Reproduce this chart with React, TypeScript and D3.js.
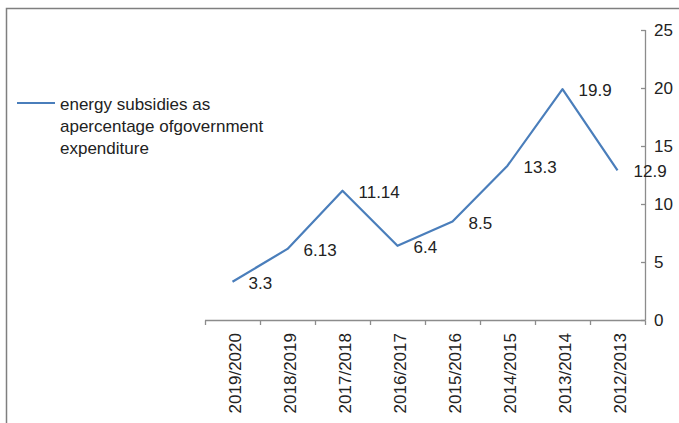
import React, { useEffect, useRef } from 'react';
import * as d3 from 'd3';

const categories = ['2019/2020', '2018/2019', '2017/2018', '2016/2017', '2015/2016', '2014/2015', '2013/2014', '2012/2013'];
const values = [3.3, 6.13, 11.14, 6.4, 8.5, 13.3, 19.9, 12.9];
const valueLabels = ['3.3', '6.13', '11.14', '6.4', '8.5', '13.3', '19.9', '12.9'];
const yTicks = [0, 5, 10, 15, 20, 25];
const legendLines = ['energy subsidies as', 'apercentage ofgovernment', 'expenditure'];

const W = 679;
const H = 423;
const FONT = '"Liberation Sans", Arial, sans-serif';
const FS = 17;
const LINE_COLOR = '#4a7ebb';
const AXIS_COLOR = '#8c8c8c';

const App: React.FC = () => {
  const svgRef = useRef<SVGSVGElement>(null);

  useEffect(() => {
    if (!svgRef.current) return;
    const svg = d3.select(svgRef.current);
    svg.selectAll('*').remove();

    // outer frame (only top and left edges are visible in the crop)
    svg.append('path')
      .attr('d', `M6.5,${H} V8.5 H${W}`)
      .attr('fill', 'none')
      .attr('stroke', '#7f7f7f')
      .attr('stroke-width', 1.5);

    const x = d3.scaleBand<string>()
      .domain(categories)
      .range([205, 645]);
    const y = d3.scaleLinear()
      .domain([0, 25])
      .range([320, 30]);

    // y axis on the right
    const yAxis = svg.append('g');
    yAxis.append('line')
      .attr('x1', 645.5).attr('x2', 645.5)
      .attr('y1', y(25)).attr('y2', y(0))
      .attr('stroke', AXIS_COLOR).attr('stroke-width', 1.3);
    yTicks.forEach(t => {
      yAxis.append('line')
        .attr('x1', 641).attr('x2', 645.5)
        .attr('y1', Math.round(y(t)) + 0.5).attr('y2', Math.round(y(t)) + 0.5)
        .attr('stroke', AXIS_COLOR).attr('stroke-width', 1.3);
      yAxis.append('text')
        .attr('x', 654)
        .attr('y', y(t))
        .attr('dy', '0.36em')
        .attr('font-family', FONT)
        .attr('font-size', FS)
        .attr('fill', '#222')
        .text(String(t));
    });

    // x axis
    const xAxis = svg.append('g');
    xAxis.append('line')
      .attr('x1', 205).attr('x2', 645.5)
      .attr('y1', 320.5).attr('y2', 320.5)
      .attr('stroke', AXIS_COLOR).attr('stroke-width', 1.3);
    const edges = categories.map(c => x(c) as number).concat([645]);
    edges.forEach(e => {
      xAxis.append('line')
        .attr('x1', Math.round(e) + 0.5).attr('x2', Math.round(e) + 0.5)
        .attr('y1', 320.5).attr('y2', 325)
        .attr('stroke', AXIS_COLOR).attr('stroke-width', 1.3);
    });
    categories.forEach(c => {
      const cx = (x(c) as number) + x.bandwidth() / 2;
      xAxis.append('text')
        .attr('transform', `translate(${cx + 2},333) rotate(-90)`)
        .attr('text-anchor', 'end')
        .attr('dy', '0.36em')
        .attr('font-family', FONT)
        .attr('font-size', FS)
        .attr('fill', '#222')
        .text(c);
    });

    // series line
    const pts = categories.map((c, i) => [
      (x(c) as number) + x.bandwidth() / 2,
      y(values[i]),
    ] as [number, number]);
    svg.append('path')
      .attr('d', d3.line()(pts))
      .attr('fill', 'none')
      .attr('stroke', LINE_COLOR)
      .attr('stroke-width', 2.2)
      .attr('stroke-linejoin', 'round');

    // data labels
    pts.forEach((p, i) => {
      svg.append('text')
        .attr('x', p[0] + 16)
        .attr('y', p[1] + 1)
        .attr('dy', '0.36em')
        .attr('font-family', FONT)
        .attr('font-size', FS)
        .attr('fill', '#222')
        .text(valueLabels[i]);
    });

    // legend
    svg.append('line')
      .attr('x1', 17).attr('x2', 55)
      .attr('y1', 103).attr('y2', 103)
      .attr('stroke', LINE_COLOR)
      .attr('stroke-width', 2.2);
    legendLines.forEach((t, i) => {
      svg.append('text')
        .attr('x', 60)
        .attr('y', 104 + i * 22)
        .attr('dy', '0.36em')
        .attr('font-family', FONT)
        .attr('font-size', FS)
        .attr('fill', '#222')
        .text(t);
    });
  }, []);

  return (
    <svg
      ref={svgRef}
      width={W}
      height={H}
      style={{ position: 'absolute', left: 0, top: 0, background: '#fff' }}
    />
  );
};

export default App;
